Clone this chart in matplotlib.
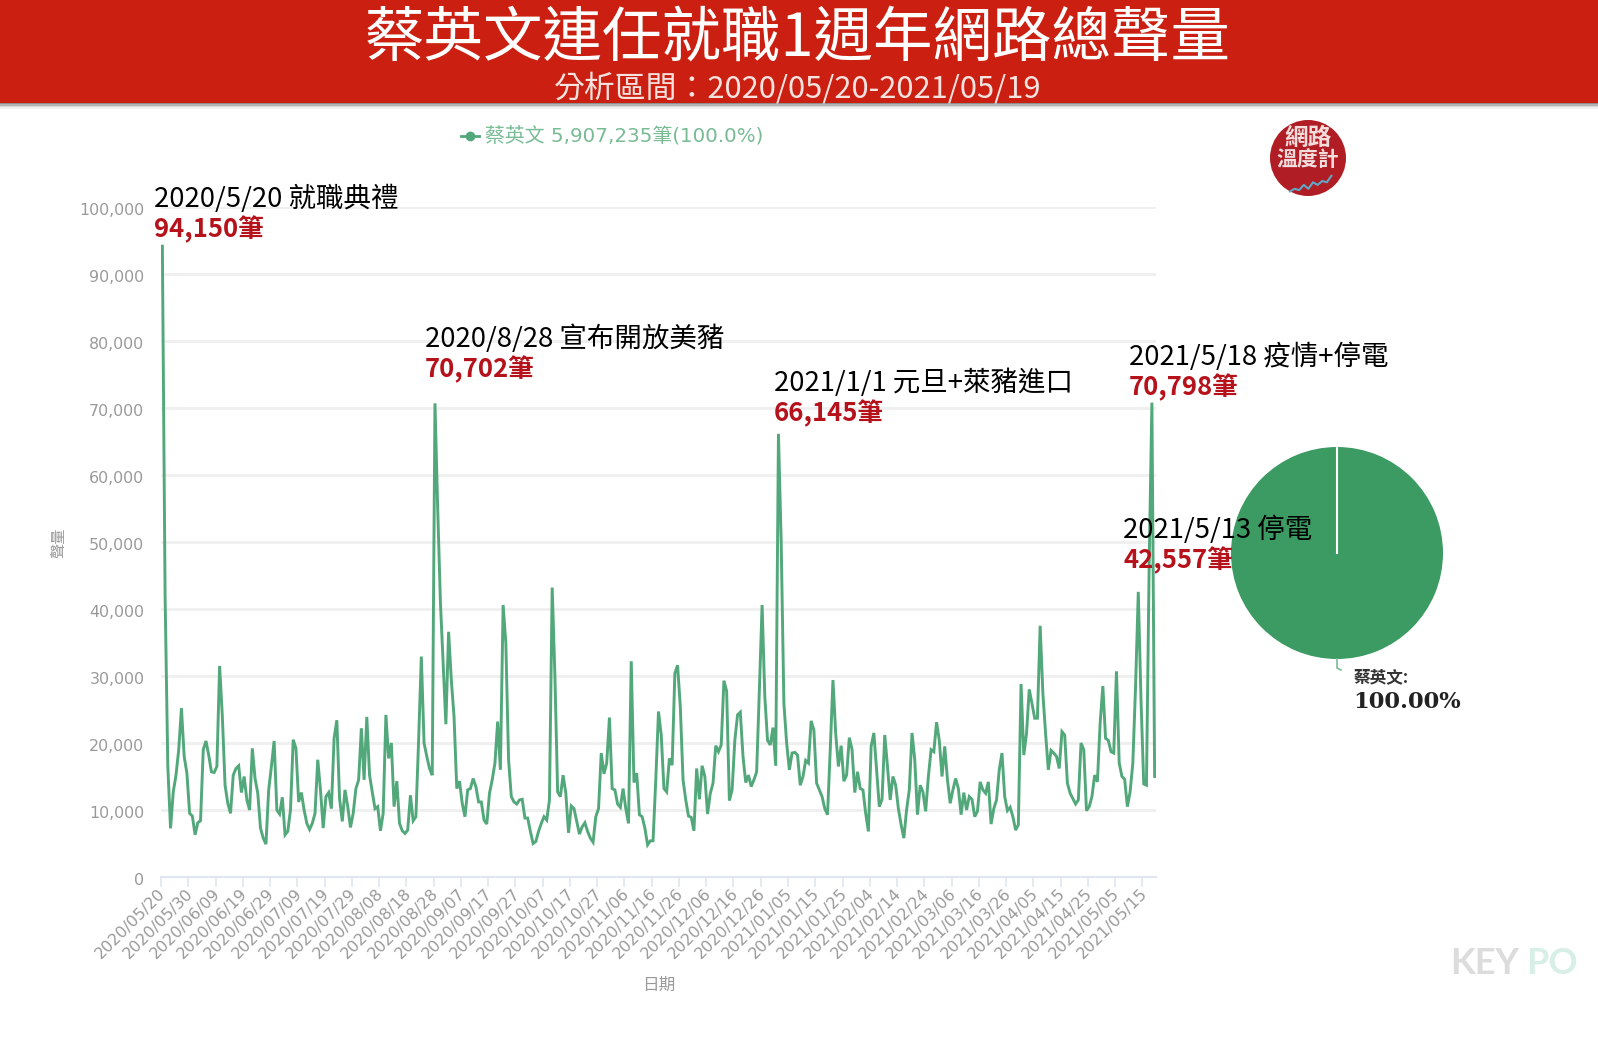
import matplotlib
matplotlib.use("Agg")
import matplotlib.pyplot as plt
from matplotlib.lines import Line2D
from matplotlib.patches import Rectangle, Circle
from matplotlib.transforms import ScaledTranslation

plt.rcParams['font.family'] = ['Noto Sans CJK TC', 'DejaVu Sans']

W, H = 1598, 1048

# daily volume, 2020/05/20 - 2021/05/19
volume = [
    94150, 42000, 16500, 7260, 12700, 15200, 19000, 25200, 18000, 15500,
    9500, 9100, 6300, 8100, 8400, 19000, 20300, 18200, 15700, 15600,
    16500, 31500, 24000, 13700, 11000, 9500, 15200, 16200, 16600, 12600,
    15000, 11500, 10000, 19200, 14700, 12500, 7300, 5800, 4900, 13000,
    16500, 20300, 10000, 9400, 11900, 6300, 6800, 10000, 20500, 19200,
    11200, 12600, 10000, 8000, 7100, 8000, 9500, 17500, 13000, 7300,
    12000, 12600, 10200, 20700, 23400, 11700, 8300, 13000, 10500, 7400,
    9500, 13200, 14500, 22200, 14500, 23900, 15200, 12700, 10200, 10500,
    6900, 9500, 24200, 17700, 20000, 10500, 14300, 8000, 6900, 6500,
    7000, 12200, 8400, 9000, 20400, 32900, 20000, 18000, 16200, 15200,
    70702, 55000, 41000, 31900, 22800, 36600, 29400, 23900, 13200, 14300,
    11000, 9000, 13000, 13200, 14700, 13500, 11200, 11200, 8500, 7900,
    12500, 14500, 17000, 23200, 16000, 40600, 34900, 17500, 12000, 11200,
    10900, 11500, 11600, 8800, 8800, 6800, 5000, 5300, 6800, 8000,
    9000, 8500, 11500, 43200, 30000, 12700, 12000, 15200, 12500, 6600,
    10600, 10200, 8300, 6400, 7500, 8100, 6800, 5800, 5200, 9000,
    10200, 18500, 15400, 17000, 23800, 13200, 13000, 10900, 10400, 13200,
    10200, 8000, 32200, 14100, 15500, 9300, 9000, 7300, 4800, 5400,
    5400, 14500, 24700, 21200, 13200, 12700, 17700, 16700, 30400, 31600,
    25400, 14500, 11500, 9100, 8900, 6900, 16200, 11600, 16600, 15000,
    9400, 12500, 14000, 19600, 18700, 19700, 29300, 27700, 11400, 13000,
    20400, 24200, 24600, 18000, 14100, 15200, 13500, 14500, 15700, 27900,
    40600, 26900, 20400, 19700, 22300, 16600, 66145, 50000, 25900, 20000,
    16000, 18500, 18600, 18200, 13700, 15000, 17400, 17000, 23300, 21900,
    14000, 13000, 12000, 10200, 9300, 19000, 29400, 21400, 16500, 19600,
    14300, 15200, 20800, 19000, 12600, 15700, 13200, 13000, 9500, 6800,
    19500, 21500, 16000, 10500, 11600, 21200, 16500, 11500, 15000, 13700,
    10200, 7800, 5800, 10000, 13000, 21500, 17500, 9300, 13700, 12700,
    9800, 15000, 19000, 18700, 23100, 20400, 15000, 19500, 14500, 11000,
    13000, 14700, 13200, 9300, 12600, 10000, 12000, 11600, 9000, 9800,
    14200, 13000, 12500, 14200, 7900, 10200, 11500, 16000, 18500, 12000,
    9900, 10400, 9000, 7000, 7800, 28800, 18200, 21400, 28000, 25900,
    23700, 23700, 37500, 27400, 21400, 16000, 18900, 18500, 18000, 16200,
    21700, 21200, 14000, 12500, 11700, 10900, 11500, 20000, 19000, 9900,
    10500, 12000, 15200, 14200, 22900, 28500, 20700, 20400, 18700, 18500,
    30700, 17000, 15000, 14600, 10500, 12700, 17000, 28400, 42557, 26400,
    13900, 13700, 47000, 70798, 15000,
]
date_labels = [
    "2020/05/20", "2020/05/30", "2020/06/09", "2020/06/19", "2020/06/29",
    "2020/07/09", "2020/07/19", "2020/07/29", "2020/08/08", "2020/08/18",
    "2020/08/28", "2020/09/07", "2020/09/17", "2020/09/27", "2020/10/07",
    "2020/10/17", "2020/10/27", "2020/11/06", "2020/11/16", "2020/11/26",
    "2020/12/06", "2020/12/16", "2020/12/26", "2021/01/05", "2021/01/15",
    "2021/01/25", "2021/02/04", "2021/02/14", "2021/02/24", "2021/03/06",
    "2021/03/16", "2021/03/26", "2021/04/05", "2021/04/15", "2021/04/25",
    "2021/05/05", "2021/05/15",
]
y_ticks = [0, 10000, 20000, 30000, 40000, 50000, 60000, 70000, 80000, 90000, 100000]
pie_values = [5907235]
logo_trend = [1, 2, 1.5, 3.5, 2, 4.5, 3.5, 5, 4.5, 7]

events = [
    ("2020/5/20 就職典禮", "94,150筆", 154, 199, 230),
    ("2020/8/28 宣布開放美豬", "70,702筆", 425, 339, 370),
    ("2021/1/1 元旦+萊豬進口", "66,145筆", 774, 383, 414),
    ("2021/5/18 疫情+停電", "70,798筆", 1129, 357, 388),
    ("2021/5/13 停電", "42,557筆", 1123, 530, 561),
]

GREEN = "#52a87a"
PIE_GREEN = "#3c9b63"
RED = "#cb2011"
GRAY = "#9a9a9a"


def put(x, y, s, **kw):
    # pixel coordinates from the top left corner
    kw.setdefault("ha", "left")
    kw.setdefault("va", "center")
    return fig.text(x / W, 1 - y / H, s, **kw)


def box(x0, y0, x1, y1):
    return [x0 / W, 1 - y1 / H, (x1 - x0) / W, (y1 - y0) / H]


def nudge(label, dx, dy):
    # shift a tick label by a few pixels (y up)
    label.set_transform(label.get_transform() + ScaledTranslation(dx / 100, dy / 100, fig.dpi_scale_trans))


fig = plt.figure(figsize=(W / 100, H / 100), dpi=100, facecolor="white")

# ---- header ----
for i, c in enumerate(["#8f8f8f", "#b5b5b5", "#d8d8d8", "#f0f0f0"]):
    fig.add_artist(Rectangle((0, 1 - (104 + i * 1.5) / H), 1, 4 / H, transform=fig.transFigure,
                             facecolor=c, edgecolor="none", zorder=i * -1))
fig.add_artist(Rectangle((0, 1 - 103 / H), 1, 103 / H, transform=fig.transFigure,
                         facecolor=RED, edgecolor="none", zorder=1))
put(798, 39, "蔡英文連任就職1週年網路總聲量", color="white", fontsize=42.8, ha="center", zorder=3)
put(798, 89, "分析區間：2020/05/20-2021/05/19", color="#f6e3e0", fontsize=22.2, ha="center", zorder=3)

# ---- line chart ----
ax = fig.add_axes(box(161, 207, 1156, 877))
x = [i + 0.5 for i in range(len(volume))]
ax.plot(x, volume, color=GREEN, lw=2.1, solid_joinstyle="miter", zorder=3)
ax.set_xlim(0, len(volume))
ax.set_ylim(0, 100000)
ax.set_yticks(y_ticks)
ax.set_yticklabels([f"{v:,}" for v in y_ticks], color=GRAY, fontsize=11.4, family="DejaVu Sans")
ax.set_xticks(range(0, len(volume), 10))
ax.set_xticklabels(date_labels, rotation=45, ha="right", rotation_mode="anchor",
                   color=GRAY, fontsize=11.5, family="DejaVu Sans")
ax.tick_params(axis="y", length=0, pad=12)
ax.tick_params(axis="x", length=7, width=1.2, color="#dfe6f2", pad=1)
for lab in ax.get_yticklabels():
    nudge(lab, 0, -2)
for lab in ax.get_xticklabels():
    nudge(lab, -3, 2)
ax.grid(axis="y", color="#efefef", lw=2)
ax.set_axisbelow(True)
for side in ["top", "right", "left"]:
    ax.spines[side].set_visible(False)
ax.spines["bottom"].set_color("#dfe6f2")
ax.spines["bottom"].set_linewidth(1.5)
ax.set_zorder(2)
ax.patch.set_alpha(0)

put(59, 543, "聲量", color=GRAY, fontsize=11, rotation=90, ha="center")
put(659, 985, "日期", color=GRAY, fontsize=12, ha="center")

# legend
fig.add_artist(Line2D([461 / W, 479 / W], [1 - 136 / H] * 2, color=GREEN, lw=2, transform=fig.transFigure))
fig.add_artist(Line2D([470 / W], [1 - 136 / H], color=GREEN, marker="o", ms=6, transform=fig.transFigure))
put(485, 136, "蔡英文 5,907,235筆(100.0%)", color="#79bb95", fontsize=14.3,
    family=["DejaVu Sans", "Noto Sans CJK TC"])

# ---- pie ----
ax_pie = fig.add_axes(box(1231, 447, 1443, 659))
ax_pie.pie(pie_values, colors=[PIE_GREEN], startangle=90, radius=1)
ax_pie.plot([0, 0], [0, 1], color="white", lw=1.5)
ax_pie.set_xlim(-1, 1)
ax_pie.set_ylim(-1, 1)
ax_pie.set_zorder(1)
fig.add_artist(Line2D([1337 / W, 1337 / W, 1341 / W], [1 - 659 / H, 1 - 668 / H, 1 - 670 / H],
                      color="#79bb95", lw=1.2, transform=fig.transFigure))
put(1354, 677, "蔡英文:", color="#333333", fontsize=12, fontweight="bold")
put(1353, 702, "100.00%", color="#222222", fontsize=16.3, fontweight="bold", family="DejaVu Serif")

# ---- event notes ----
for note, count, left, y_note, y_count in events:
    put(left, y_note, note, color="black", fontsize=19.8, zorder=5)
    put(left, y_count, count, color="#b5121b", fontsize=18.5, fontweight="bold", zorder=5)

# ---- logo ----
ax_logo = fig.add_axes(box(1268, 118, 1348, 198))
ax_logo.set_xlim(-40, 40)
ax_logo.set_ylim(-40, 40)
ax_logo.axis("off")
ax_logo.add_patch(Circle((0, 0), 38, facecolor="#b01d24", edgecolor="none"))
ax_logo.text(0, 20, "網路", color="#f3dcdc", fontsize=17, ha="center", va="center", fontweight="bold")
ax_logo.text(0, -2, "溫度計", color="#f3dcdc", fontsize=15, ha="center", va="center", fontweight="bold")
trend_x = [-18 + 4.6 * i for i in range(len(logo_trend))]
ax_logo.plot(trend_x, [-36 + 2.6 * v for v in logo_trend], color="#5fa8c8", lw=1.5)

# ---- watermark ----
put(1450, 963, "KEY", color="#dcdcdc", fontsize=26, fontweight="bold", family="Lato")
put(1526, 963, "PO", color="#d8efe8", fontsize=26, fontweight="bold", family="Lato")

fig.savefig("out.png", dpi=100)
